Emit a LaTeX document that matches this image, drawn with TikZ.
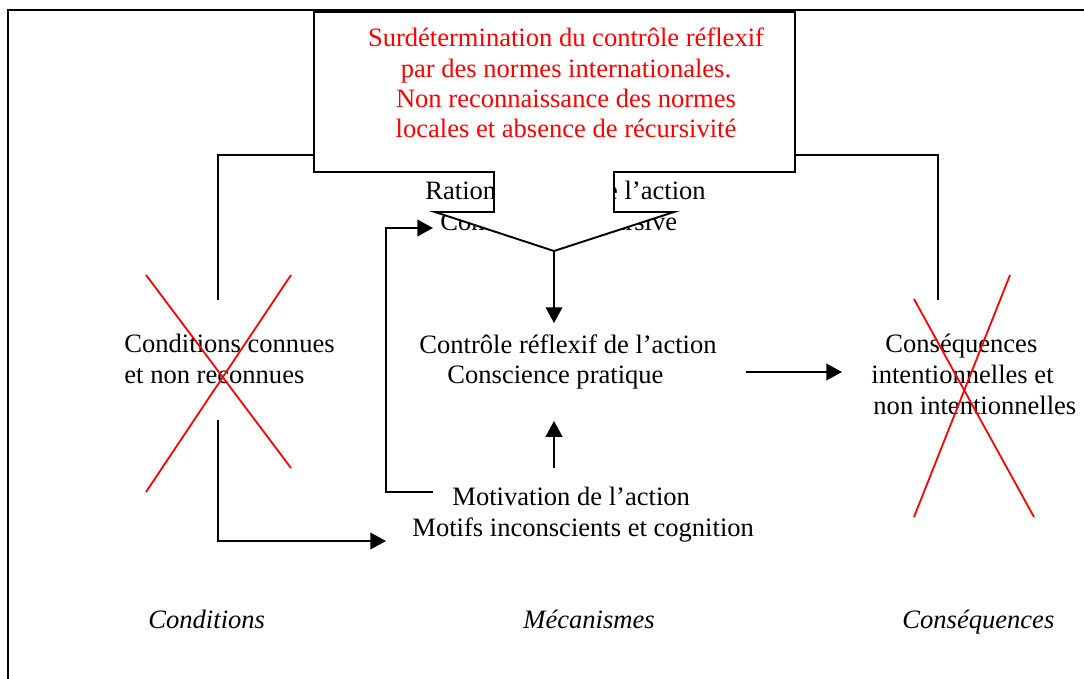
\documentclass[tikz,border=0pt]{standalone}
\usepackage{fontspec}
\setmainfont{Liberation Serif}
\usetikzlibrary{arrows.meta}
\begin{document}
\begin{tikzpicture}[x=0.4444pt,y=-0.4444pt,
  txt/.style={anchor=base west, inner sep=0pt, font=\fontsize{11.8}{13.8}\selectfont},
  itxt/.style={txt, font=\fontsize{11.8}{13.8}\selectfont\itshape},
  redtxt/.style={anchor=base, inner sep=0pt, text=red, font=\fontsize{11.8}{13.8}\selectfont},
  conn/.style={line width=0.85pt},
  arr/.style={conn,-{Triangle[length=7pt,width=7.4pt]}},
  cross/.style={red,line width=0.8pt},
  framestyle/.style={line width=0.6pt},
  callout/.style={line width=0.85pt, fill=white, draw=black}]
\useasboundingbox (0,0) rectangle (1084,679);

% frame
\coordinate (fBL) at (8,679);
\coordinate (fTL) at (8,10);
\coordinate (fTR) at (1084,10);
\draw[framestyle] (fBL) -- (fTL) -- (fTR);

% connector coordinates
\coordinate (lUp) at (218,300);
\coordinate (lCorner) at (218,155);
\coordinate (boxL) at (314,155);
\coordinate (rUp) at (938,300);
\coordinate (rCorner) at (938,155);
\coordinate (boxR) at (795,155);
\coordinate (lDown) at (218,420);
\coordinate (lBot) at (218,541);
\coordinate (motIn) at (386,541);
\coordinate (fbStart) at (433,492);
\coordinate (fbB) at (386,492);
\coordinate (fbT) at (386,228);
\coordinate (fbEnd) at (433,228);
\coordinate (upS) at (554,468);
\coordinate (upE) at (554,421);
\coordinate (rtS) at (746,372);
\coordinate (rtE) at (842,372);
\coordinate (tail) at (554,251);
\coordinate (dnE) at (554,323);

\draw[conn] (lUp) -- (lCorner) -- (boxL);
\draw[conn] (rUp) -- (rCorner) -- (boxR);
\draw[arr] (lDown) -- (lBot) -- (motIn);
\draw[arr] (fbStart) -- (fbB) -- (fbT) -- (fbEnd);
\draw[arr] (upS) -- (upE);
\draw[arr] (rtS) -- (rtE);

% texts
\node[txt] (cond1) at (124,352) {Conditions connues};
\node[txt] (cond2) at (124,383) {et non reconnues};
\node[txt] (ctrl1) at (419,353) {Contrôle réflexif de l’action};
\node[txt] (ctrl2) at (447,383) {Conscience pratique};
\node[txt] (mot1) at (452,505) {Motivation de l’action};
\node[txt] (mot2) at (412,536) {Motifs inconscients et cognition};
\node[txt] (cons1) at (885,352) {Conséquences};
\node[txt] (cons2) at (871,383) {intentionnelles et};
\node[txt] (cons3) at (873,414) {non intentionnelles};
\node[txt] (rat1) at (425,199) {Rationalisation de l’action};
\node[txt] (rat2) at (440,230) {Conscience discursive};
\node[itxt] (hCond) at (148,628) {Conditions};
\node[itxt] (hMec) at (523,628) {Mécanismes};
\node[itxt] (hCons) at (902,628) {Conséquences};

% callout box
\draw[callout] (314,12) -- (795,12) -- (795,172) -- (614,172) -- (614,212)
  -- (674,212) -- (tail) -- (435,212) -- (494,212) -- (494,172)
  -- (314,172) -- cycle;
\node[redtxt] (r1) at (566,46) {Surdétermination du contrôle réflexif};
\node[redtxt] (r2) at (566,77) {par des normes internationales.};
\node[redtxt] (r3) at (566,107) {Non reconnaissance des normes};
\node[redtxt] (r4) at (566,137) {locales et absence de récursivité};

\draw[arr] (tail) -- (dnE);

% red crosses
\coordinate (xa1) at (146,275);
\coordinate (xa2) at (291,468);
\coordinate (xa3) at (291,275);
\coordinate (xa4) at (146,492);
\draw[cross] (xa1) -- (xa2);
\draw[cross] (xa3) -- (xa4);
\coordinate (xb1) at (914,299);
\coordinate (xb2) at (1034,517);
\coordinate (xb3) at (1010,275);
\coordinate (xb4) at (914,517);
\draw[cross] (xb1) -- (xb2);
\draw[cross] (xb3) -- (xb4);
\end{tikzpicture}
\end{document}
